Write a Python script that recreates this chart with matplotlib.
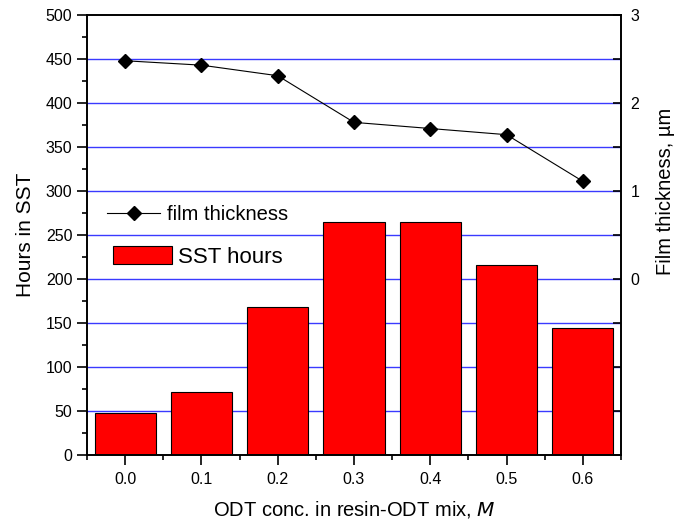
import numpy as np
import matplotlib
matplotlib.use("Agg")
import matplotlib.pyplot as plt
from matplotlib.ticker import MultipleLocator, FixedLocator, FixedFormatter

plt.rcParams['font.family'] = ['Liberation Sans', 'DejaVu Sans']

odt_conc = [0.0, 0.1, 0.2, 0.3, 0.4, 0.5, 0.6]
sst_hours = [48, 72, 168, 265, 265, 216, 144]
film_thickness = [2.48, 2.43, 2.31, 1.78, 1.71, 1.64, 1.11]

fig = plt.figure(figsize=(6.79, 5.22), dpi=100)
ax = fig.add_axes([87 / 679, 67 / 522, 534 / 679, 440 / 522])

# grid lines behind bars
for yv in range(50, 500, 50):
    ax.axhline(yv, color='#3a3aff', lw=1.0, zorder=0)

bars = ax.bar(odt_conc, sst_hours, width=0.08, color='#ff0000', edgecolor='black',
              lw=0.8, zorder=2, label='SST hours')

ax.set_xlim(-0.05, 0.65)
ax.set_ylim(0, 500)
ax.xaxis.set_minor_locator(MultipleLocator(0.05))
ax.yaxis.set_major_locator(MultipleLocator(50))
ax.yaxis.set_minor_locator(MultipleLocator(25))
ax.set_xticks(odt_conc)
ax.set_xticklabels(['%.1f' % v for v in odt_conc])
ax.tick_params(axis='both', which='major', direction='out', length=7, width=1.2, labelsize=11.5)
ax.tick_params(axis='both', which='minor', direction='out', length=3.6, width=1.2)
ax.tick_params(top=False, right=False, which='both')
ax.tick_params(axis='x', pad=5)
ax.tick_params(axis='y', pad=3.5)
for s in ax.spines.values():
    s.set_linewidth(1.2)

ax.set_ylabel('Hours in SST', fontsize=15, labelpad=8)
ax.set_xlabel('ODT conc. in resin-ODT mix, $\\it{M}$', fontsize=14.5, labelpad=9)

ax2 = ax.twinx()
ax2.set_ylim(-2, 3)
ax2.plot(odt_conc, film_thickness, color='black', lw=0.8, marker='D', ms=7.5,
         label='film thickness', zorder=3)
rticks = np.arange(-2, 3.01, 0.5)
ax2.yaxis.set_major_locator(FixedLocator(rticks))
ax2.yaxis.set_major_formatter(FixedFormatter(
    [('%d' % t) if (t >= 0 and t == int(t)) else '' for t in rticks]))
ax2.tick_params(axis='y', direction='in', length=6, width=1.2, labelsize=11.5, pad=7)
ax2.set_ylabel('Film thickness, µm', fontsize=14.5)
ax2.yaxis.set_label_coords((656 - 87) / 534, (455 - 191) / 440)
for s in ax2.spines.values():
    s.set_linewidth(1.2)

leg1 = ax2.legend(loc='center left', bbox_to_anchor=(107 / 679, 1 - 215 / 522),
                  bbox_transform=fig.transFigure, frameon=False, fontsize=14.5,
                  handlelength=2.65, handletextpad=0.35, borderpad=0, borderaxespad=0)
leg2 = ax.legend(loc='center left', bbox_to_anchor=(113 / 679, 1 - 257 / 522),
                 bbox_transform=fig.transFigure, frameon=False, fontsize=16,
                 handlelength=2.66, handleheight=0.9, handletextpad=0.28,
                 borderpad=0, borderaxespad=0)

fig.savefig('out.png', dpi=100)
